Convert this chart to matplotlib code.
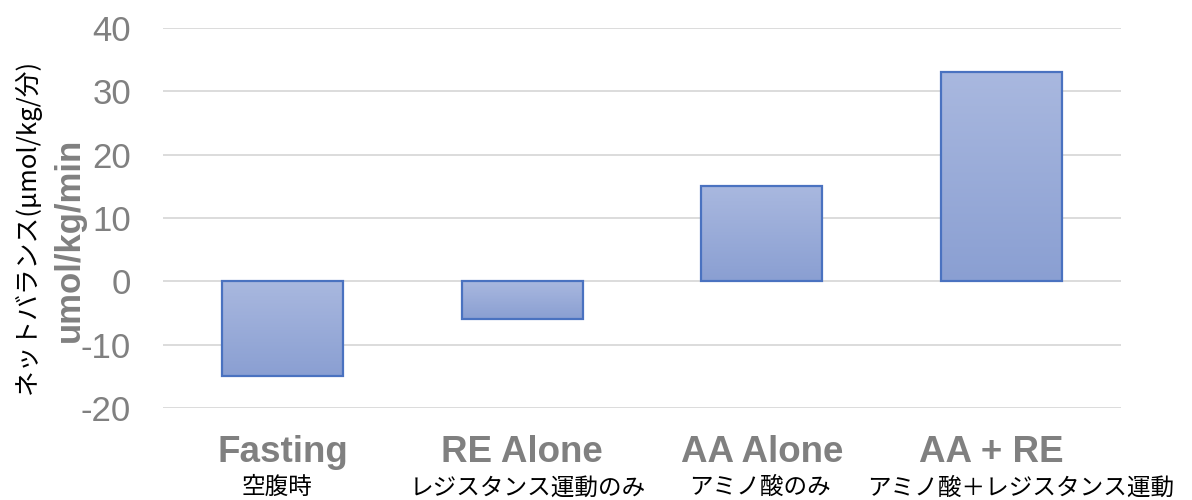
import numpy as np
import matplotlib
matplotlib.use("Agg")
import matplotlib.pyplot as plt
from matplotlib.colors import LinearSegmentedColormap
from matplotlib.transforms import offset_copy

categories_en = ["Fasting", "RE Alone", "AA Alone", "AA + RE"]
categories_ja = ["空腹時", "レジスタンス運動のみ", "アミノ酸のみ", "アミノ酸＋レジスタンス運動"]
values = [-15, -6, 15, 33]
yticks = [-20, -10, 0, 10, 20, 30, 40]

plt.rcParams['font.family'] = ['Liberation Sans', 'Noto Sans CJK JP', 'DejaVu Sans']

fig = plt.figure(figsize=(11.92, 5.0), dpi=100)
ax = fig.add_axes([163/1192, 1-408/500, (1121-163)/1192, (408-28)/500])

x = np.arange(len(categories_en))
bars = ax.bar(x, values, width=0.505, facecolor='none', edgecolor='#4a72c0', linewidth=1.6, zorder=3)

cmap = LinearSegmentedColormap.from_list('g', ['#8a9fd2', '#a9b8df'])
grad = np.linspace(0, 1, 256).reshape(-1, 1)
for b in bars:
    x0, y0 = b.get_x(), b.get_y()
    w, h = b.get_width(), b.get_height()
    ylo, yhi = min(y0, y0 + h), max(y0, y0 + h)
    im = ax.imshow(grad, cmap=cmap, origin='lower', aspect='auto',
                   extent=[x0, x0 + w, ylo, yhi], zorder=2)
    im.set_clip_path(b)

ax.set_xlim(-0.5, len(categories_en) - 0.5)
ax.set_ylim(-20, 40)
ax.set_yticks(yticks)
ax.set_yticklabels([str(t) for t in yticks], fontsize=25, color='#808080')
ax.yaxis.grid(True, color='#d9d9d9', linewidth=1.3, zorder=0)
ax.set_axisbelow(True)
for s in ax.spines.values():
    s.set_visible(False)
ax.tick_params(axis='both', length=0)
ax.tick_params(axis='y', pad=23)
ax.set_xticks([])

en_dx = [0, 0, 0, -7]      # horizontal nudges in points
ja_dx = [-4, 4, -1, 14]
for xi, en, ja, d1, d2 in zip(x, categories_en, categories_ja, en_dx, ja_dx):
    ax.text(xi, -27.0, en, ha='center', va='center', fontsize=26.5, fontweight='bold',
            color='#808080', clip_on=False,
            transform=offset_copy(ax.transData, fig=fig, x=d1, y=0, units='points'))
    ax.text(xi, -32.6, ja, ha='center', va='center', fontsize=17, color='black',
            family=['Noto Sans CJK JP', 'DejaVu Sans'], clip_on=False,
            transform=offset_copy(ax.transData, fig=fig, x=d2, y=0, units='points'))

fig.text(27/1192, 1-226/500, "ネットバランス(μmol/kg/分)", rotation=90, ha='center', va='center',
         fontsize=18.5, color='black', family=['Noto Sans CJK JP', 'DejaVu Sans'])
fig.text(69/1192, 1-240/500, "umol/kg/min", rotation=90, ha='center', va='center',
         fontsize=25, fontweight='bold', color='#808080', family=['Liberation Sans', 'DejaVu Sans'])

fig.savefig("out.png", dpi=100)
